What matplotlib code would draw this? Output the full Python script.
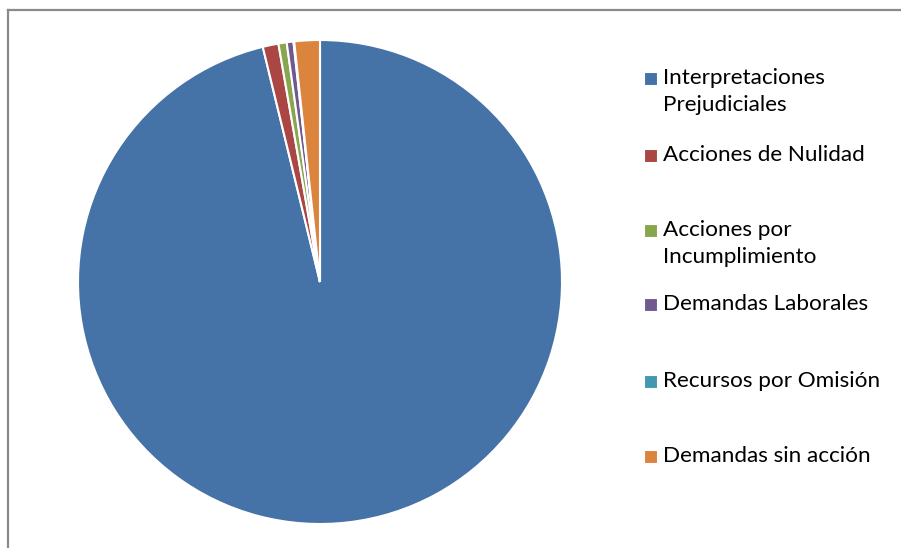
import matplotlib
matplotlib.use("Agg")
from matplotlib import pyplot as plt
from matplotlib.lines import Line2D
from matplotlib.patches import Rectangle

W, H = 901, 548

labels = ["Interpretaciones\nPrejudiciales", "Acciones de Nulidad",
          "Acciones por\nIncumplimiento", "Demandas Laborales",
          "Recursos por Omisión", "Demandas sin acción"]
values = [96.2, 1.05, 0.55, 0.45, 0.05, 1.7]
colors = ["#4572A7", "#AA4643", "#89A54E", "#71588F", "#4198AF", "#DB843D"]
# legend rows (pixel y of first text line)
legend_y = [78, 155, 230, 304, 381, 456]


def px(x, y):
    return x / W, 1 - y / H


fig = plt.figure(figsize=(W / 100, H / 100), dpi=100)

# chart area border (only top and left visible)
fig.add_artist(Line2D([8 / W, 1.0], [1 - 10 / H] * 2, color="#8a8a8a", lw=1.6))
fig.add_artist(Line2D([8 / W] * 2, [0.0, 1 - 10 / H], color="#8a8a8a", lw=1.6))

cx, cy, r = 320, 282, 242
ax = fig.add_axes([(cx - r) / W, (H - cy - r) / H, 2 * r / W, 2 * r / H])
ax.pie(values, colors=colors, startangle=90, counterclock=False, radius=1,
       wedgeprops=dict(edgecolor="white", linewidth=1.5))
ax.set_xlim(-1, 1)
ax.set_ylim(-1, 1)
ax.set_aspect("equal")
ax.axis("off")

for lab, col, y in zip(labels, colors, legend_y):
    x0, y0 = px(644, y + 7)
    fig.add_artist(Rectangle((x0, y0), 13 / W, 13 / H, transform=fig.transFigure,
                             facecolor=col, edgecolor="white", lw=0.8))
    tx, ty = px(663, y - 10)
    fig.text(tx, ty, lab, family="Lato", fontsize=16.2, color="black",
             va="top", ha="left", linespacing=1.42)

fig.savefig("out.png", dpi=100)
